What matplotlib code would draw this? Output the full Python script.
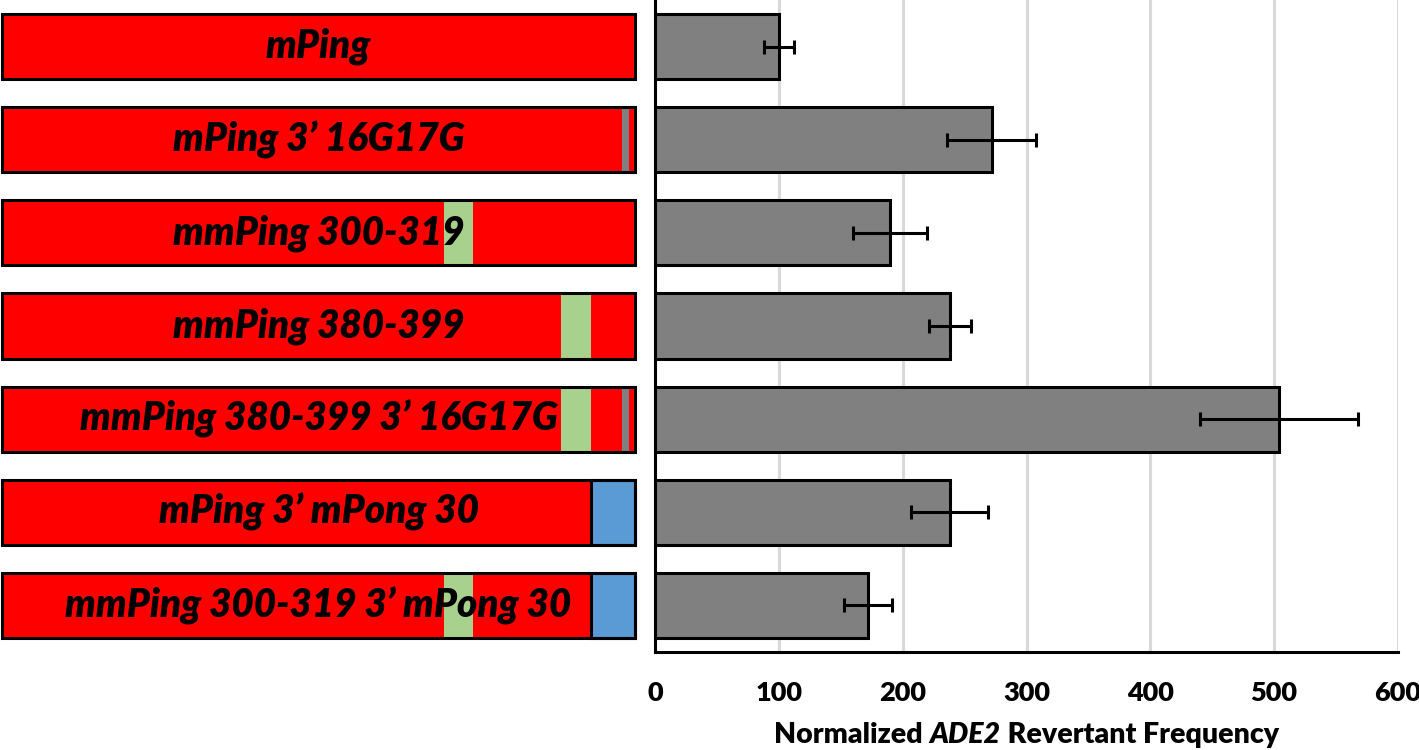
import matplotlib
matplotlib.use("Agg")
import matplotlib.pyplot as plt
import numpy as np

# fonts: bold look of the original
plt.rcParams["font.family"] = ["Lato", "DejaVu Sans"]
plt.rcParams["font.weight"] = "heavy"

# data
constructs = ["mPing", "mPing 3\u2019 16G17G", "mmPing 300-319", "mmPing 380-399",
              "mmPing 380-399 3\u2019 16G17G", "mPing 3\u2019 mPong 30",
              "mmPing 300-319 3\u2019 mPong 30"]
freq = [100, 272, 190, 238, 504, 238, 172]
err = [12, 36, 30, 17, 64, 31, 19]

# construct features (bp along a 430 bp element)
element_len = 430
mm_start = [None, None, 300, 380, 380, None, 300]   # 20 bp mutated block
mm_len = 20
g16g17 = [False, True, False, False, True, False, False]
g_start, g_len = 421, 5
mpong = [False, False, False, False, False, True, True]
mpong_start, mpong_len = 400, 30

y = np.arange(len(constructs))
h = 0.7

fig = plt.figure(figsize=(14.19, 7.5), dpi=100)

# left panel: construct diagrams
axl = fig.add_axes([0, 0.1307, 655 / 1419, 0.8693])
axl.barh(y, element_len, height=h, color="#ff0000", edgecolor="none", zorder=1)
for i in y:
    if mm_start[i] is not None:
        axl.barh(i, mm_len, left=mm_start[i], height=h, color="#a9d18e", edgecolor="none", zorder=2)
    if g16g17[i]:
        axl.barh(i, g_len, left=g_start, height=h, color="#808080", edgecolor="none", zorder=2)
    if mpong[i]:
        axl.barh(i, mpong_len, left=mpong_start, height=h, color="#5b9bd5",
                 edgecolor="black", linewidth=2.2, zorder=2)
    axl.text(element_len / 2, i, constructs[i], ha="center", va="center",
             fontsize=27.8, fontstyle="italic", zorder=4)
axl.barh(y, element_len, height=h, color="none", edgecolor="black", linewidth=2.2, zorder=3)
axl.set_xlim(-1.4, 443.6)
axl.set_ylim(len(constructs) - 0.5, -0.5)
axl.axis("off")

# right panel: revertant frequency
ax = fig.add_axes([655 / 1419, 0.1307, (1398 - 655) / 1419, 0.8693])
ax.barh(y, freq, height=h, color="#808080", edgecolor="black", linewidth=2.2, zorder=2)
ax.errorbar(freq, y, xerr=err, fmt="none", ecolor="black", elinewidth=2.2,
            capsize=5, capthick=2.2, zorder=3)
ax.set_xlim(0, 600)
ax.set_ylim(len(constructs) - 0.5, -0.5)
ax.set_xticks(range(0, 700, 100))
ax.set_yticks([])
ax.tick_params(axis="x", length=0, pad=21, labelsize=19.5)
ax.grid(axis="x", color="#d9d9d9", linewidth=2.2, zorder=0)
ax.set_axisbelow(True)
for s in ["top", "right"]:
    ax.spines[s].set_visible(False)
ax.spines["left"].set_linewidth(2.2)
ax.spines["bottom"].set_linewidth(2.2)

# x label in three pieces so ADE2 is italic
fig.canvas.draw()
r = fig.canvas.get_renderer()
parts = [("Normalized ", "normal"), ("ADE2", "italic"), (" Revertant Frequency", "normal")]
texts = [fig.text(0, 0, s, fontsize=20.5, fontstyle=st, va="center") for s, st in parts]
widths = [t.get_window_extent(r).width for t in texts]
x0 = (655 + 1398) / 2 - sum(widths) / 2
for t, w in zip(texts, widths):
    t.set_position((x0 / 1419, 1 - 735 / 750))
    x0 += w

fig.savefig("out.png", dpi=100)
